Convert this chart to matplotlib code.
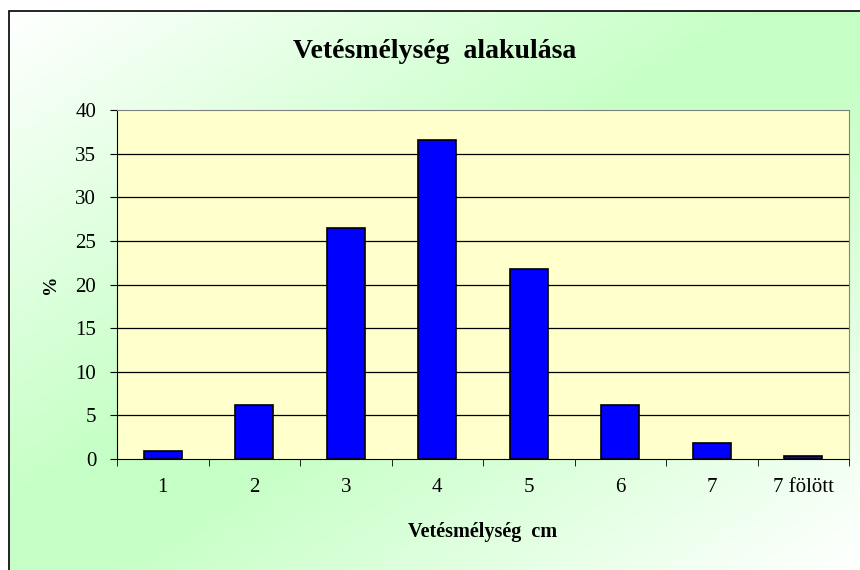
import numpy as np
import matplotlib.pyplot as plt
from matplotlib.patches import Rectangle

categories = ['1', '2', '3', '4', '5', '6', '7', '7 fölött']
values = [0.9, 6.2, 26.5, 36.6, 21.8, 6.2, 1.8, 0.35]
yticks = [0, 5, 10, 15, 20, 25, 30, 35, 40]

plt.rcParams['font.family'] = ['Liberation Serif', 'DejaVu Serif']

fig = plt.figure(figsize=(8.6, 5.7), dpi=100)

# diagonal gradient background: white -> light green -> white
bg = fig.add_axes([0, 0, 1, 1], zorder=0)
u, v = np.meshgrid(np.linspace(0, 1, 300), np.linspace(0, 1, 200))
d = (u + v) / 2
w = 1 - np.abs(2 * d - 1)
w = np.clip(w * 1.15, 0, 1)
green = np.array([0.78, 1.0, 0.78])
img = (1 - w[..., None]) + w[..., None] * green
bg.imshow(img, extent=[9 / 860, 1, 0, 1 - 11 / 570], aspect='auto',
          transform=fig.transFigure)
bg.set_xlim(0, 1)
bg.set_ylim(0, 1)
bg.axis('off')
fig.add_artist(Rectangle((9 / 860, -0.01), 1.0, 1 - 11 / 570 + 0.01,
                         transform=fig.transFigure, fill=False,
                         edgecolor='black', linewidth=1.2, zorder=1))

ax = fig.add_axes([117 / 860, 1 - 459 / 570, 732 / 860, 349 / 570], zorder=2)
ax.set_facecolor('#ffffcc')
x = np.arange(len(categories))
ax.bar(x, values, width=0.42, color='#0000ff', edgecolor='black',
       linewidth=1.2, zorder=3)

ax.set_xlim(-0.5, len(categories) - 0.5)
ax.set_ylim(0, 40)
ax.set_yticks(yticks)
ax.set_yticklabels([str(t) for t in yticks], fontsize=15)
ax.set_xticks(x)
ax.set_xticklabels(categories, fontsize=15)
ax.set_xticks(np.arange(-0.5, len(categories), 1), minor=True)
ax.tick_params(axis='x', which='major', length=0, pad=14)
ax.tick_params(axis='x', which='minor', length=5, direction='out', color='black')
ax.tick_params(axis='y', length=5, direction='out', color='black', pad=10)

for t in yticks[1:-1]:
    ax.axhline(t, color='black', linewidth=0.9, zorder=1)

ax.spines['left'].set_color('black')
ax.spines['bottom'].set_color('black')
ax.spines['top'].set_color('#808080')
ax.spines['right'].set_color('#808080')

ax.set_ylabel('%', fontsize=14, fontweight='bold', labelpad=12)
ax.set_xlabel('Vetésmélység  cm', fontsize=14.5, fontweight='bold', labelpad=18)
fig.text(435 / 860, 1 - 52 / 570, 'Vetésmélység  alakulása', ha='center',
         va='center', fontsize=20, fontweight='bold')

fig.savefig('out.png', dpi=100)
